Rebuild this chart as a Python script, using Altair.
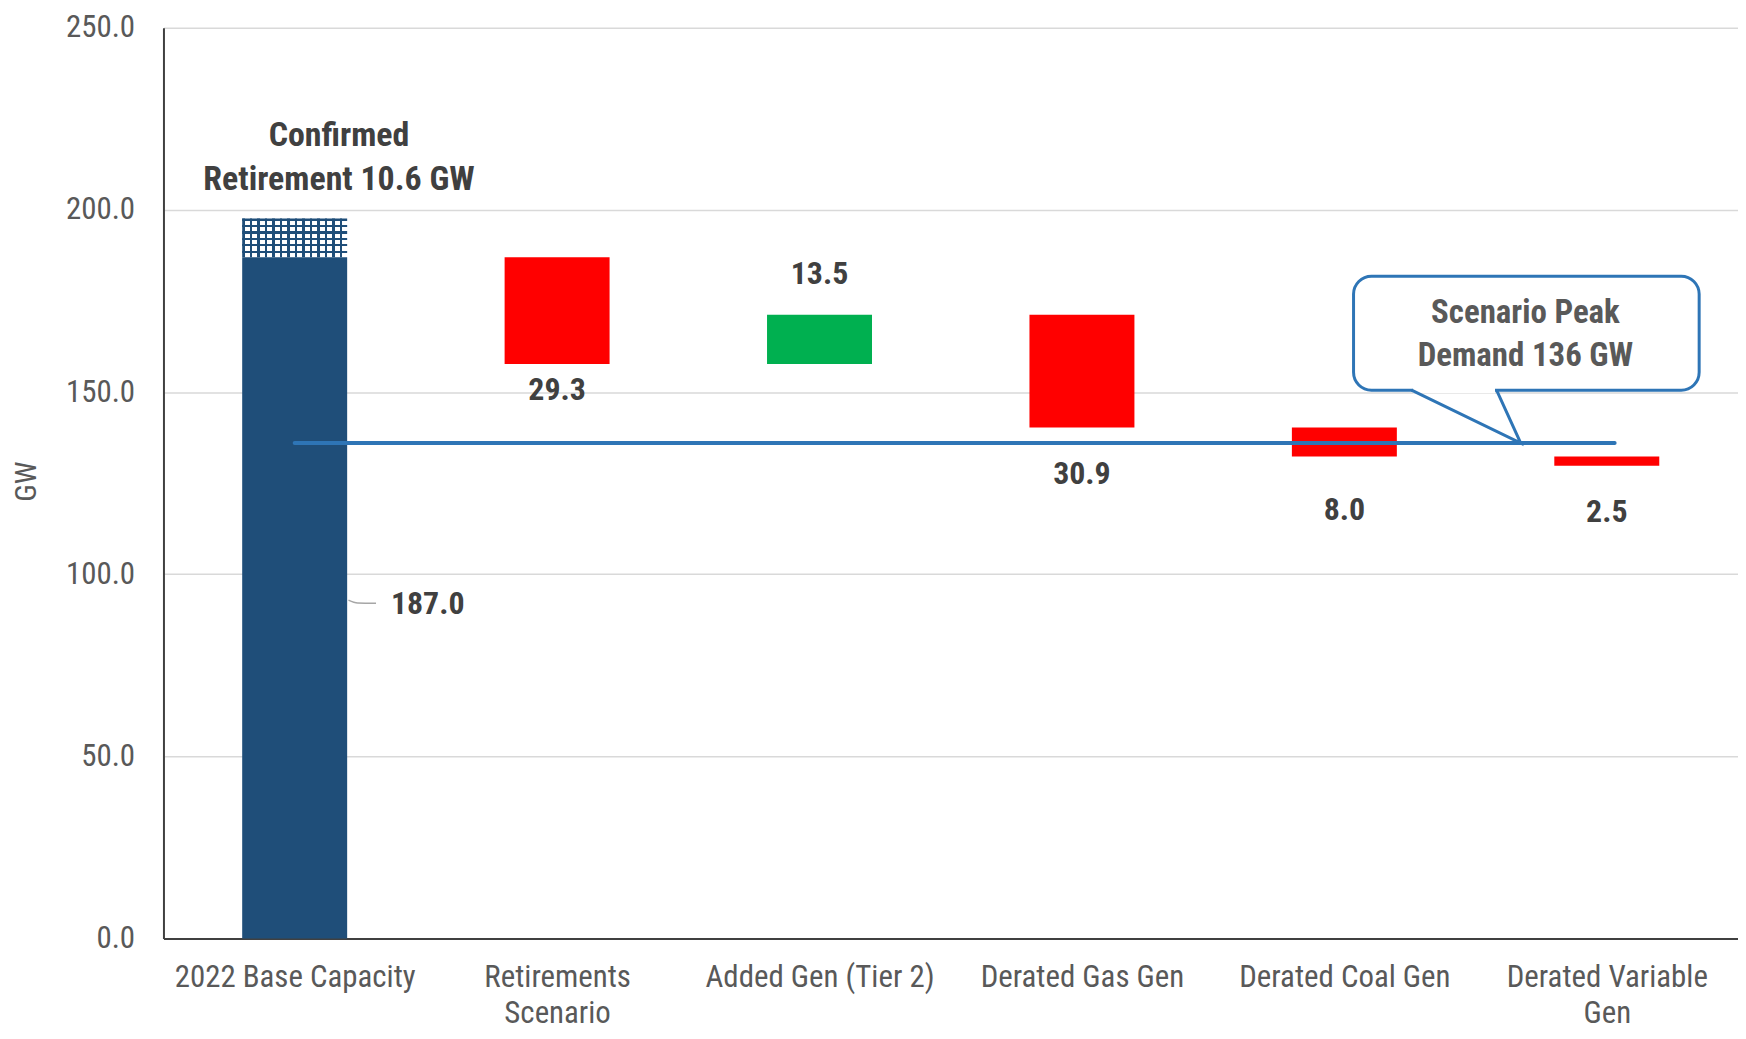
import json
import altair as alt
import pandas as pd

# ---------------- data ----------------
categories = ["2022 Base Capacity", "Retirements Scenario", "Added Gen (Tier 2)",
              "Derated Gas Gen", "Derated Coal Gen", "Derated Variable Gen"]
axis_lines = [["2022 Base Capacity"], ["Retirements", "Scenario"], ["Added Gen (Tier 2)"],
              ["Derated Gas Gen"], ["Derated Coal Gen"], ["Derated Variable", "Gen"]]
changes = [187.0, -29.3, 13.5, -30.9, -8.0, -2.5]
bar_colors = ["#1F4E79", "#FF0000", "#00B050", "#FF0000", "#FF0000", "#FF0000"]
value_text = ["187.0", "29.3", "13.5", "30.9", "8.0", "2.5"]
label_at = [91.9, 150.5, 182.3, 127.5, 117.7, 117.2]   # GW level of each value label
confirmed_retirement = 10.6
peak_demand = 136.0
y_ticks = [0, 50, 100, 150, 200, 250]

FONT = "Liberation Sans Narrow, Arial Narrow, Roboto Condensed, sans-serif"
TXT = "#404040"
AX = "#595959"
BLUE = "#2E75B6"
half = 0.2

# ---------------- derived tables ----------------
ends, starts, run = [], [], 0.0
for i, c in enumerate(changes):
    s = 0.0 if i == 0 else run
    run = c if i == 0 else run + c
    starts.append(s)
    ends.append(run)
df = pd.DataFrame({
    "idx": list(range(len(categories))),
    "cat": categories,
    "low": [min(a, b) for a, b in zip(starts, ends)],
    "high": [max(a, b) for a, b in zip(starts, ends)],
    "color": bar_colors,
    "text": value_text,
    "label_at": label_at,
})
df["x0"] = df["idx"] - half
df["x1"] = df["idx"] + half

xs = alt.Scale(domain=[-0.5, len(categories) - 0.5], nice=False, zero=False)
ys = alt.Scale(domain=[0, 250], nice=False)

label_expr = json.dumps(axis_lines) + "[datum.value]"
xaxis = alt.Axis(values=list(range(len(categories))), labelExpr=label_expr, grid=False,
                 ticks=False, domainColor="#404040", domainWidth=2, labelFont=FONT,
                 labelFontSize=31, labelColor=AX, labelPadding=24, labelLineHeight=36,
                 labelLimit=0, labelFlush=False, labelOverlap=False, labelBound=False,
                 title=None)
yaxis = alt.Axis(values=y_ticks, format=".1f", grid=True, gridColor="#D9D9D9", gridWidth=1.5,
                 ticks=False, domainColor="#404040", domainWidth=2, labelFont=FONT,
                 labelFontSize=31, labelColor=AX, labelPadding=29, title="GW",
                 titleFont=FONT, titleFontSize=30, titleFontWeight="normal", titleColor=AX,
                 titleAngle=-90, titleX=-137, titleY=455, titleAlign="center",
                 titleBaseline="middle")

bars = alt.Chart(df).mark_bar().encode(
    x=alt.X("x0:Q", scale=xs, axis=xaxis),
    x2="x1",
    y=alt.Y("low:Q", scale=ys, axis=yaxis),
    y2="high",
    color=alt.Color("color:N", scale=None),
)

# hatched "confirmed retirement" block on top of the base bar
hatch_df = pd.DataFrame({"x0": [-half], "x1": [half], "low": [changes[0]],
                         "high": [changes[0] + confirmed_retirement]})


def stripes(n, horizontal, frac=0.32):
    stops = []
    for k in range(n):
        a, b, c = k / n, (k + frac) / n, (k + 1) / n
        stops += [{"offset": a, "color": "#1F4E79"}, {"offset": b, "color": "#1F4E79"},
                  {"offset": b, "color": "rgba(31,78,121,0)"}, {"offset": c, "color": "rgba(31,78,121,0)"}]
    return {"gradient": "linear", "x1": 0, "y1": 0, "x2": 0 if horizontal else 1,
            "y2": 1 if horizontal else 0, "stops": stops}


hatch_v = alt.Chart(hatch_df).mark_bar(fill=stripes(14, False)).encode(
    x="x0:Q", x2="x1", y="low:Q", y2="high")
hatch_h = alt.Chart(hatch_df).mark_bar(fill=stripes(6, True)).encode(
    x="x0:Q", x2="x1", y="low:Q", y2="high")

# peak demand line
line_df = pd.DataFrame({"x0": [0.0], "x1": [5.03], "y": [peak_demand]})
peak = alt.Chart(line_df).mark_rule(color=BLUE, strokeWidth=4, strokeCap="round").encode(
    x="x0:Q", x2="x1", y="y:Q")

# value labels
labels = alt.Chart(df.iloc[1:]).mark_text(font=FONT, fontSize=32, fontWeight="bold",
                                           color=TXT).encode(
    x="idx:Q", y="label_at:Q", text="text:N")

base_lab_df = pd.DataFrame({"x": [0.507], "y": [label_at[0]], "t": [value_text[0]]})
base_lab = alt.Chart(base_lab_df).mark_text(font=FONT, fontSize=32, fontWeight="bold",
                                             color=TXT).encode(x="x:Q", y="y:Q", text="t:N")
leader_df = pd.DataFrame({"x": [half + 0.005, 0.24, 0.31],
                          "y": [label_at[0] + 1.0, label_at[0] + 0.2, label_at[0] + 0.1]})
leader = alt.Chart(leader_df).mark_line(color="#A6A6A6", strokeWidth=1.5,
                                        interpolate="monotone").encode(x="x:Q", y="y:Q")

conf_df = pd.DataFrame({"x": [0.169, 0.169], "y": [220.4, 208.2],
                        "t": ["Confirmed", f"Retirement {confirmed_retirement} GW"]})
conf = alt.Chart(conf_df).mark_text(font=FONT, fontSize=34, fontWeight="bold",
                                    color=TXT).encode(x="x:Q", y="y:Q", text="t:N")

# callout
box_df = pd.DataFrame({"x0": [4.035], "x1": [5.352], "y0": [150.5], "y1": [181.8]})
box = alt.Chart(box_df).mark_rect(fill="white", stroke=BLUE, strokeWidth=3,
                                  cornerRadius=18).encode(x="x0:Q", x2="x1", y="y0:Q", y2="y1")
gap_df = pd.DataFrame({"x0": [4.262], "x1": [4.574], "y": [150.5]})
gap = alt.Chart(gap_df).mark_rule(color="white", strokeWidth=6).encode(x="x0:Q", x2="x1", y="y:Q")
ptr_df = pd.DataFrame({"x": [4.256, 4.672, 4.580], "y": [150.5, peak_demand, 150.5],
                       "o": [0, 1, 2]})
ptr = alt.Chart(ptr_df).mark_line(color=BLUE, strokeWidth=3, strokeJoin="miter").encode(
    x="x:Q", y="y:Q", order="o:Q")
call_df = pd.DataFrame({"x": [4.690, 4.690], "y": [171.7, 159.8],
                        "t": ["Scenario Peak", f"Demand {int(peak_demand)} GW"]})
call_txt = alt.Chart(call_df).mark_text(font=FONT, fontSize=33, fontWeight="bold",
                                        color=AX).encode(x="x:Q", y="y:Q", text="t:N")

chart = alt.layer(bars, hatch_v, hatch_h, peak, labels, leader, base_lab, conf,
                  box, gap, ptr, call_txt).properties(
    width=1580, height=914, autosize="none",
    padding={"left": 156, "top": 18, "right": 0, "bottom": 90},
    background="white",
).configure_view(stroke=None)

chart.save("out.html", embed_options={"renderer": "svg", "actions": False})
